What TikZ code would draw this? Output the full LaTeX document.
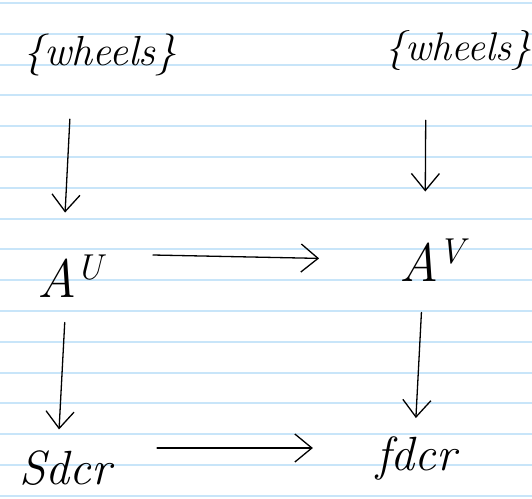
\documentclass[tikz,border=0pt]{standalone}
\usepackage{tikz}
\usetikzlibrary{arrows.meta,positioning}
\definecolor{ruleblue}{RGB}{200,229,249}

\begin{document}
\begin{tikzpicture}[x=1pt,y=1pt,
  hand/.style={font=\fontsize{48}{52}\selectfont\itshape, inner sep=1pt},
  map/.style={line width=1.3pt, line cap=round, -{Straight Barb[length=17pt,width=28pt,line width=1.3pt]}}]
\useasboundingbox (0,0) rectangle (532,-498);

%Ruled paper
\foreach \k in {0,...,16}
  \draw[ruleblue, line width=2pt] (0,-3-30.8*\k) -- (532,-3-30.8*\k);

%Objects
\node[hand, font=\fontsize{42}{46}\selectfont\itshape] (wl) at (100,-55) {\{wheels\}};
\node[hand, font=\fontsize{40}{44}\selectfont\itshape] (wr) at (458,-50) {\{wheels\}};
\node[hand, font=\fontsize{54}{58}\selectfont\itshape] (au) at (70,-276) {A\raisebox{18pt}{\fontsize{36}{38}\selectfont U}};
\node[hand, font=\fontsize{54}{58}\selectfont\itshape] (av) at (432,-260) {A\raisebox{18pt}{\fontsize{36}{38}\selectfont V}};
\node[hand] (sl) at (65,-468) {Sdcr};
\node[hand] (fr) at (416,-458) {fdcr};

%Maps
\draw[map, shorten <=42pt, shorten >=41pt] ([xshift=-28pt]wl.south) -- ([xshift=-7pt]au.north);
\draw[map, shorten <=49pt, shorten >=46pt] ([xshift=-32pt]wr.south) -- ([xshift=-7pt]av.north);
\draw[map, shorten <=49pt, shorten >=79pt] ([yshift=22pt]au.east) -- (av.west);
\draw[map, shorten <=24pt, shorten >=20pt] ([xshift=-4pt]au.south) -- ([xshift=-7pt]sl.north);
\draw[map, shorten <=30pt, shorten >=17pt] ([xshift=-9pt]av.south) -- ([xshift=-1pt]fr.north);
\draw[map, shorten <=45pt, shorten >=62pt] ([yshift=20pt]sl.east) -- ([yshift=10pt]fr.west);
\end{tikzpicture}
\end{document}
